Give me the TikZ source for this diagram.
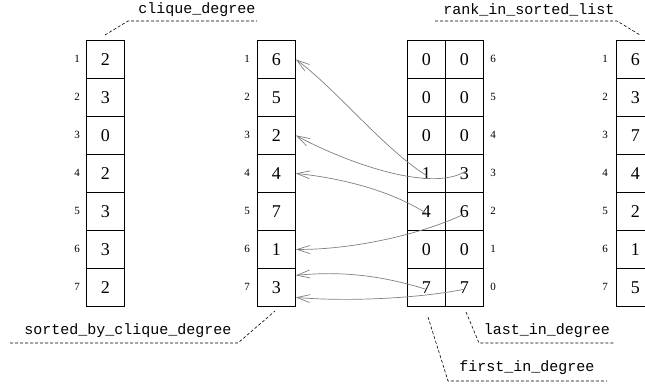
\documentclass[tikz,border=0pt]{standalone}
\usepackage{fontspec}
\setmainfont{Liberation Serif}
\setmonofont{Liberation Mono}
\usetikzlibrary{arrows.meta}
\begin{document}
\begin{tikzpicture}[x=1pt,y=-1pt,
  cell/.style={draw, line width=0.8pt, minimum width=38pt, minimum height=38pt,
    inner sep=0pt, font=\fontsize{18}{20}\selectfont, anchor=north west},
  idx/.style={font=\fontsize{11}{12}\selectfont, inner sep=0pt},
  lbl/.style={font=\ttfamily\fontsize{15}{16}\selectfont, inner sep=0pt},
  dsh/.style={dash pattern=on 3pt off 2pt, line width=0.6pt},
  arr/.style={draw=gray, line width=0.7pt,
    -{Straight Barb[length=13pt,width=8pt,line width=0.7pt]}}]
\useasboundingbox (0,0) rectangle (645,385);
\clip (0,0) rectangle (645,385);
% column 1: clique_degree
\foreach \v [count=\i] in {2,3,0,2,3,3,2} {
  \node[cell] (a\i) at (86,{40+38*(\i-1)}) {\v};
  \node[idx] (ai\i) at (77,{59+38*(\i-1)}) {\i};
}
% column 2: sorted_by_clique_degree
\foreach \v [count=\i] in {6,5,2,4,7,1,3} {
  \node[cell] (b\i) at (257,{40+38*(\i-1)}) {\v};
  \node[idx] (bi\i) at (247,{59+38*(\i-1)}) {\i};
}
% column 3: first/last_in_degree
\foreach \l/\r/\k [count=\i] in {0/0/6,0/0/5,0/0/4,1/3/3,4/6/2,0/0/1,7/7/0} {
  \node[cell] (cL\i) at (407,{40+38*(\i-1)}) {\l};
  \node[cell] (cR\i) at (445,{40+38*(\i-1)}) {\r};
  \node[idx] (ci\i) at (493,{59+38*(\i-1)}) {\k};
}
% column 4: rank_in_sorted_list
\foreach \v [count=\i] in {6,3,7,4,2,1,5} {
  \node[cell] (d\i) at (616,{40+38*(\i-1)}) {\v};
  \node[idx] (di\i) at (605,{59+38*(\i-1)}) {\i};
}
% labels and leaders
\node[lbl] (lcd) at (197,10) {clique\_degree};
\coordinate (lcd1) at (105,35); \coordinate (lcd2) at (128,21); \coordinate (lcd3) at (257,21);
\draw[dsh] (lcd1) -- (lcd2) -- (lcd3);

\node[lbl] (lrk) at (529,10) {rank\_in\_sorted\_list};
\coordinate (lrk1) at (435,21); \coordinate (lrk2) at (617,21); \coordinate (lrk3) at (640,35);
\draw[dsh] (lrk1) -- (lrk2) -- (lrk3);

\node[lbl] (lsb) at (128,331) {sorted\_by\_clique\_degree};
\coordinate (lsb1) at (10,343); \coordinate (lsb2) at (238,343); \coordinate (lsb3) at (275,311);
\draw[dsh] (lsb1) -- (lsb2) -- (lsb3);

\node[lbl] (lla) at (547,331) {last\_in\_degree};
\coordinate (lla1) at (466,312); \coordinate (lla2) at (479,343); \coordinate (lla3) at (615,343);
\draw[dsh] (lla1) -- (lla2) -- (lla3);

\node[lbl] (lfi) at (527,368) {first\_in\_degree};
\coordinate (lfi1) at (428,317); \coordinate (lfi2) at (448,381); \coordinate (lfi3) at (607,381);
\draw[dsh] (lfi1) -- (lfi2) -- (lfi3);

% arrows
\draw[arr] ([yshift=-2pt]cL4.center) .. controls (385,150) and (335,88) .. (b1.east);
\draw[arr] ([xshift=1pt,yshift=2pt]cR4.center) .. controls (430,193) and (345,162) .. (b3.east);
\draw[arr] ([yshift=-2pt]cL5.center) .. controls (390,190) and (340,178) .. (b4.east);
\draw[arr] ([xshift=-1pt,yshift=-3pt]cR5.center) .. controls (420,235) and (350,250) .. (b6.east);
\draw[arr] ([yshift=-2pt]cL7.center) .. controls (380,275) and (340,271) .. ([yshift=12pt]b7.east);
\draw[arr] ([xshift=-1pt,yshift=-2pt]cR7.center) .. controls (420,298) and (350,302) .. ([yshift=-10pt]b7.east);
\end{tikzpicture}
\end{document}
